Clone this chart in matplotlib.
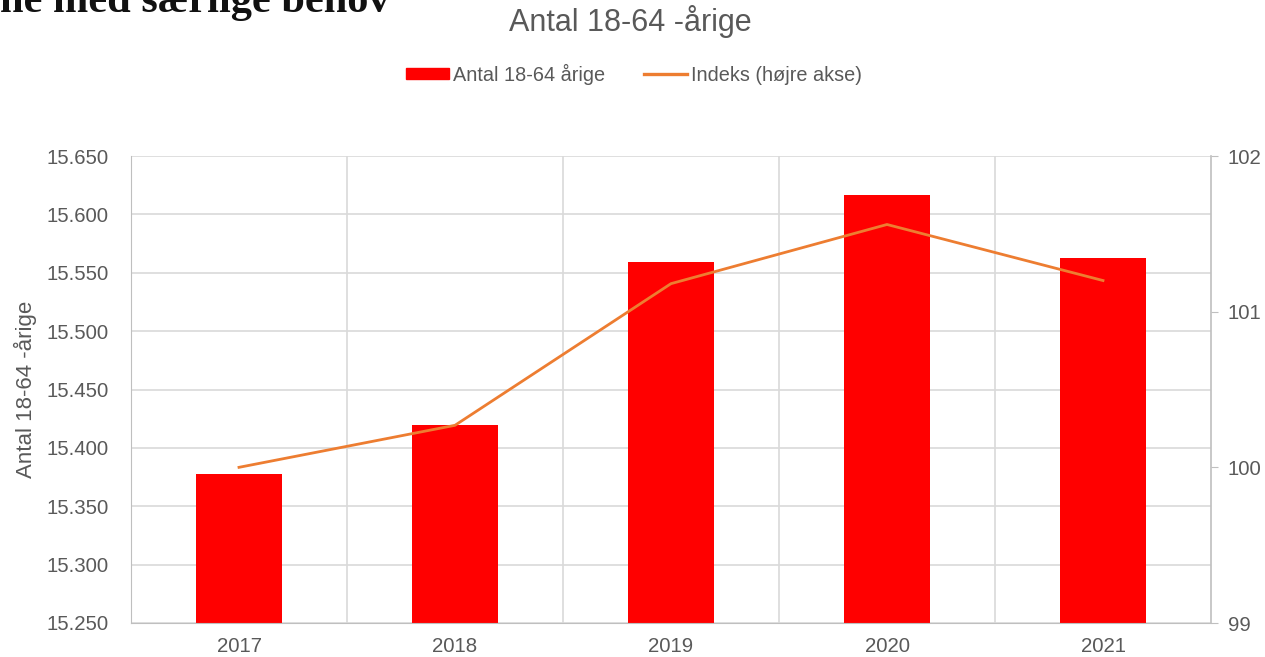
import matplotlib.pyplot as plt
from matplotlib.patches import Patch
from matplotlib.lines import Line2D
import numpy as np

plt.rcParams["font.family"] = ["Liberation Sans", "DejaVu Sans"]

# data
years = ["2017", "2018", "2019", "2020", "2021"]
antal = [15378, 15420, 15559, 15617, 15563]
indeks = [100.0, 100.27, 101.18, 101.56, 101.20]

grey = "#595959"
grid_c = "#d9d9d9"
bar_c = "#ff0000"
line_c = "#ed7d31"

fig = plt.figure(figsize=(12.65, 6.57), dpi=100)
ax = fig.add_axes([131 / 1265, 1 - 623 / 657, (1211 - 131) / 1265, (623 - 156) / 657])
ax2 = ax.twinx()

x = np.arange(len(years))
ax.bar(x, antal, width=0.4, color=bar_c, zorder=2)
ax2.plot(x, indeks, color=line_c, lw=2.0, zorder=3)

ax.set_xlim(-0.5, len(years) - 0.5)
ax.set_ylim(15250, 15650)
ax.set_yticks(np.arange(15250, 15651, 50))
ax.set_yticklabels([f"{v:,}".replace(",", ".") for v in range(15250, 15651, 50)])
ax2.set_ylim(99, 102)
ax2.set_yticks([99, 100, 101, 102])

ax.set_xticks(x)
ax.set_xticklabels(years)
ax.set_xticks(np.arange(0.5, len(years) - 0.5, 1), minor=True)
ax.grid(True, axis="y", color=grid_c, lw=1.2, zorder=0)
ax.grid(True, axis="x", which="minor", color=grid_c, lw=1.2, zorder=0)
ax.set_axisbelow(True)

for a in (ax, ax2):
    for s in a.spines.values():
        s.set_visible(False)
ax.spines["left"].set_visible(True)
ax.spines["left"].set_color("#bfbfbf")
ax.spines["bottom"].set_visible(True)
ax.spines["bottom"].set_color("#bfbfbf")
ax2.spines["right"].set_visible(True)
ax2.spines["right"].set_color("#bfbfbf")
ax2.spines["right"].set_linewidth(1.2)

ax.tick_params(axis="y", length=0, pad=16, labelsize=14.7, labelcolor=grey)
ax.tick_params(axis="x", which="both", length=0, pad=10, labelsize=14.7, labelcolor=grey)
ax2.tick_params(axis="y", length=5, color="#bfbfbf", pad=7, labelsize=14.7, labelcolor=grey)

ax.set_ylabel("Antal 18-64 -årige", fontsize=16, color=grey)
ax.yaxis.set_label_coords(-0.087, 0.5)

fig.text(630 / 1265, 1 - 22 / 657, "Antal 18-64 -årige", ha="center", va="center",
         fontsize=22, color=grey)

handles = [Patch(color=bar_c), Line2D([], [], color=line_c, lw=2.4)]
fig.legend(handles, ["Antal 18-64 årige", "Indeks (højre akse)"],
           loc="center", bbox_to_anchor=(634 / 1265, 1 - 74 / 657), ncol=2,
           frameon=False, fontsize=14.3, labelcolor=grey, handlelength=2.15,
           handleheight=0.5, handletextpad=0.2, columnspacing=2.0)

# cut-off heading from the page above
fig.text(0, 1 - 12 / 657, "ne med særlige behov", ha="left", va="baseline",
         fontsize=30.5, fontweight="bold", family="Liberation Serif", color="#111111")

plt.savefig("out.png", dpi=100)
